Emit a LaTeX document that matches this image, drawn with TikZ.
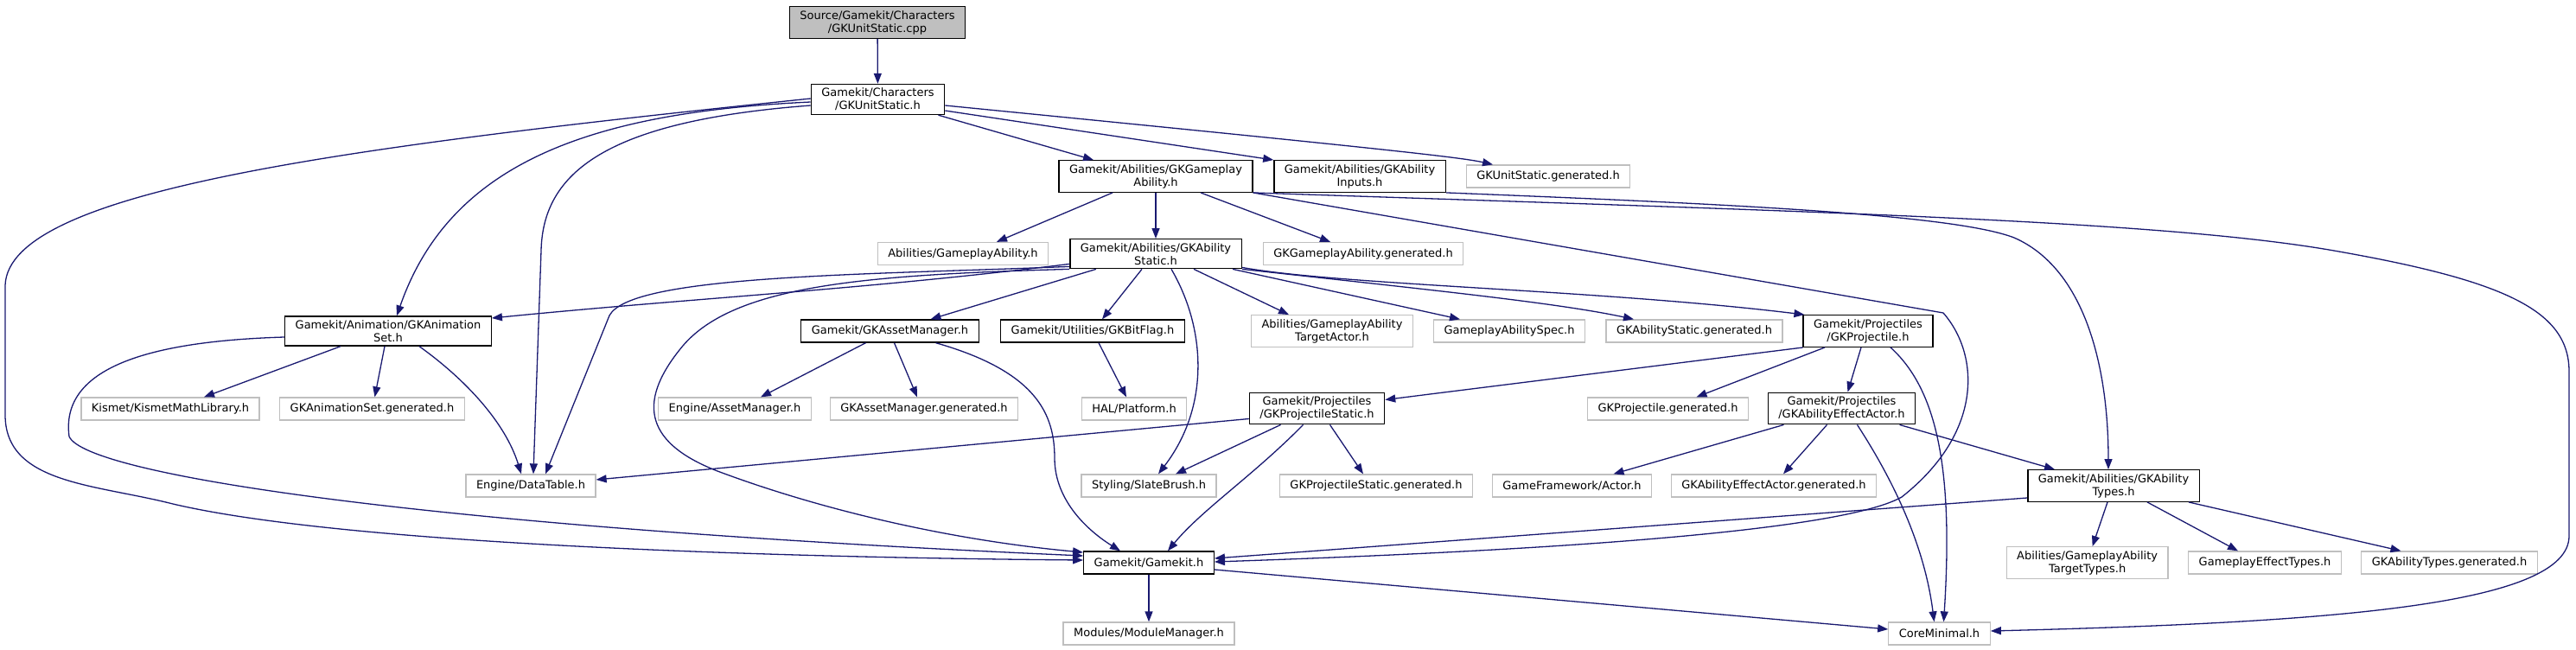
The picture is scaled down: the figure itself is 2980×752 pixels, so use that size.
\documentclass[tikz,border=0pt]{standalone}
\usepackage{fontspec}
\setmainfont{DejaVu Sans}
\usepackage{tikz}
\usetikzlibrary{arrows.meta}
\definecolor{edgeblue}{HTML}{191970}
\definecolor{extgray}{HTML}{BFBFBF}
\tikzset{
    file/.style={rectangle, draw=black, line width=1.3pt, fill=white, align=center, font=\fontsize{13}{15}\selectfont, inner xsep=12pt, inner ysep=4.5pt, minimum height=26pt},
    extfile/.style={file, draw=extgray},
    rootfile/.style={file, fill=extgray},
    dep/.style={edgeblue, line width=1.3pt, -{Triangle[length=12pt, width=9pt]}},
}

\begin{document}
\begin{tikzpicture}[x=1pt, y=-1pt]
    \useasboundingbox (0,0) rectangle (2980,752);

    \node[rootfile] (cpp) at (1015,26) {Source/Gamekit/Characters\\/GKUnitStatic.cpp};
    \node[file] (unit) at (1015.5,115) {Gamekit/Characters\\/GKUnitStatic.h};

    \node[file] (gpa) at (1337,204) {Gamekit/Abilities/GKGameplay\\Ability.h};
    \node[file] (inputs) at (1573,204) {Gamekit/Abilities/GKAbility\\Inputs.h};
    \node[extfile] (unitgen) at (1791,204) {GKUnitStatic.generated.h};

    \node[extfile] (gabil) at (1114,293.5) {Abilities/GameplayAbility.h};
    \node[file] (astatic) at (1337,293.7) {Gamekit/Abilities/GKAbility\\Static.h};
    \node[extfile] (gpagen) at (1577,293.5) {GKGameplayAbility.generated.h};

    \node[file] (animset) at (449,383) {Gamekit/Animation/GKAnimation\\Set.h};
    \node[file] (assetmgr) at (1029.5,383) {Gamekit/GKAssetManager.h};
    \node[file] (bitflag) at (1264,383) {Gamekit/Utilities/GKBitFlag.h};
    \node[extfile] (tactor) at (1541,383) {Abilities/GameplayAbility\\TargetActor.h};
    \node[extfile] (spec) at (1746,383) {GameplayAbilitySpec.h};
    \node[extfile] (astagen) at (1960,383) {GKAbilityStatic.generated.h};
    \node[file] (proj) at (2161,383) {Gamekit/Projectiles\\/GKProjectile.h};

    \node[extfile] (kismet) at (197,473) {Kismet/KismetMathLibrary.h};
    \node[extfile] (animgen) at (430.5,473) {GKAnimationSet.generated.h};
    \node[extfile] (engasset) at (850,473) {Engine/AssetManager.h};
    \node[extfile] (amgen) at (1069,473) {GKAssetManager.generated.h};
    \node[extfile] (platform) at (1312,473) {HAL/Platform.h};
    \node[file] (projstatic) at (1523.5,472.5) {Gamekit/Projectiles\\/GKProjectileStatic.h};
    \node[extfile] (projgen) at (1929.5,473) {GKProjectile.generated.h};
    \node[file] (effactor) at (2130.5,472.5) {Gamekit/Projectiles\\/GKAbilityEffectActor.h};

    \node[extfile] (datatable) at (614,562) {Engine/DataTable.h};
    \node[extfile] (slate) at (1329,562) {Styling/SlateBrush.h};
    \node[extfile] (psgen) at (1592,562) {GKProjectileStatic.generated.h};
    \node[extfile] (actor) at (1818.5,562) {GameFramework/Actor.h};
    \node[extfile] (eagen) at (2052,562) {GKAbilityEffectActor.generated.h};
    \node[file] (types) at (2445,562) {Gamekit/Abilities/GKAbility\\Types.h};

    \node[file] (gamekit) at (1329,651) {Gamekit/Gamekit.h};
    \node[extfile] (ttypes) at (2414.6,651) {Abilities/GameplayAbility\\TargetTypes.h};
    \node[extfile] (effect) at (2620,651) {GameplayEffectTypes.h};
    \node[extfile] (typesgen) at (2833.5,651) {GKAbilityTypes.generated.h};

    \node[extfile] (modmgr) at (1329,733) {Modules/ModuleManager.h};
    \node[extfile] (core) at (2243.5,733) {CoreMinimal.h};

    \draw[dep] (cpp) -- (unit);
    \draw[dep] ([xshift=70pt]unit.south) -- ([xshift=-72pt]gpa.north);
    \draw[dep] ([yshift=-13pt]unit.east) -- (inputs.north west);
    \draw[dep] ([yshift=-7pt]unit.east) .. controls (1600,172) and (1690,182) .. ([xshift=-64pt]unitgen.north);
    \draw[dep] ([yshift=-3pt]unit.west) .. controls (680,130) and (520,190) .. ([xshift=10pt]animset.north);
    \draw[dep] ([yshift=-7pt]unit.west) .. controls (700,140) and (628,200) .. (626,290) -- ([xshift=3pt]datatable.north);
    \draw[dep] ([yshift=1pt]unit.west) .. controls (400,170) and (10,220) .. (6,330) -- (6,480)
        .. controls (6,560) and (110,560) .. (200,583) .. controls (400,630) and (900,645) .. ([yshift=3pt]gamekit.west);

    \draw[dep] ([xshift=-50pt]gpa.south) -- ([xshift=39pt]gabil.north);
    \draw[dep] (gpa) -- (astatic);
    \draw[dep] ([xshift=52pt]gpa.south) -- ([xshift=-38pt]gpagen.north);
    \draw[dep] (gpa.south east) -- (2248,362) .. controls (2290,410) and (2295,500) .. (2200,575)
        .. controls (2120,620) and (1700,640) .. ([yshift=1pt]gamekit.east);
    \draw[dep] (gpa.south east) .. controls (2100,245) and (2500,255) .. (2700,290)
        .. controls (2900,325) and (2972,360) .. (2972,430) -- (2972,620)
        .. controls (2972,700) and (2700,720) .. ([yshift=3pt]core.east);
    \draw[dep] (inputs.south east) .. controls (2000,236) and (2260,248) .. (2330,275)
        .. controls (2410,310) and (2439,420) .. ([xshift=-6pt]types.north);

    \draw[dep] ([yshift=6pt]astatic.south west) .. controls (1000,335) and (800,345) .. ([yshift=15pt]animset.east);
    \draw[dep] ([yshift=3pt]astatic.south west) .. controls (1000,318) and (730,318) .. (705,365) -- ([xshift=17pt]datatable.north);
    \draw[dep] (astatic.south west) .. controls (1000,318) and (850,330) .. (790,400)
        .. controls (740,460) and (740,510) .. (830,545) .. controls (950,590) and (1100,625) .. ([yshift=12pt]gamekit.west);
    \draw[dep] ([xshift=-69pt]astatic.south) -- ([xshift=47pt]assetmgr.north);
    \draw[dep] ([xshift=-16pt]astatic.south) -- ([xshift=11pt]bitflag.north);
    \draw[dep] ([xshift=18pt]astatic.south) .. controls (1395,380) and (1400,470) .. ([xshift=11pt]slate.north);
    \draw[dep] ([xshift=44pt]astatic.south) -- ([xshift=-50pt]tactor.north);
    \draw[dep] ([xshift=89pt]astatic.south) -- ([xshift=-57pt]spec.north);
    \draw[dep] (astatic.south east) .. controls (1650,335) and (1800,350) .. ([xshift=-70pt]astagen.north);
    \draw[dep] ([yshift=2pt]astatic.south east) .. controls (1550,330) and (1850,335) .. ([xshift=2pt]proj.north west);

    \draw[dep] ([xshift=-55pt]animset.south) -- ([xshift=39pt]kismet.north);
    \draw[dep] ([xshift=-4pt]animset.south) -- ([xshift=3pt]animgen.north);
    \draw[dep] ([xshift=36pt]animset.south) .. controls (540,440) and (585,490) .. ([xshift=-11pt]datatable.north);
    \draw[dep] ([yshift=-7pt]animset.west) .. controls (160,395) and (70,430) .. (80,505)
        .. controls (100,550) and (500,610) .. ([yshift=8pt]gamekit.west);

    \draw[dep] ([xshift=-28pt]assetmgr.south) -- ([xshift=30pt]engasset.north);
    \draw[dep] ([xshift=5pt]assetmgr.south) -- ([xshift=-8pt]amgen.north);
    \draw[dep] ([xshift=53pt]assetmgr.south) .. controls (1200,430) and (1220,480) .. (1220,530)
        .. controls (1220,580) and (1260,615) .. ([xshift=-33pt]gamekit.north);
    \draw[dep] ([xshift=7pt]bitflag.south) -- ([xshift=-9pt]platform.north);

    \draw[dep] ([yshift=-12pt]projstatic.west) -- ([yshift=7pt]datatable.east);
    \draw[dep] ([xshift=-42pt]projstatic.south) -- ([xshift=31pt]slate.north);
    \draw[dep] ([xshift=-16pt]projstatic.south) .. controls (1450,550) and (1390,590) .. ([xshift=22pt]gamekit.north);
    \draw[dep] ([xshift=15pt]projstatic.south) -- ([xshift=-15pt]psgen.north);

    \draw[dep] ([yshift=-19pt]proj.west) -- ([yshift=10pt]projstatic.east);
    \draw[dep] ([xshift=-50pt]proj.south) -- ([xshift=33pt]projgen.north);
    \draw[dep] ([xshift=-8pt]proj.south) -- ([xshift=7pt]effactor.north);
    \draw[dep] ([xshift=26pt]proj.south) .. controls (2240,450) and (2260,540) .. ([xshift=5pt]core.north);

    \draw[dep] ([xshift=-67pt]effactor.south) -- ([xshift=48pt]actor.north);
    \draw[dep] ([xshift=-17pt]effactor.south) -- ([xshift=11pt]eagen.north);
    \draw[dep] ([xshift=18pt]effactor.south) .. controls (2180,540) and (2225,620) .. ([xshift=-6pt]core.north);
    \draw[dep] ([xshift=67pt]effactor.south) -- ([xshift=-68pt]types.north);

    \draw[dep] ([yshift=-14pt]types.west) -- ([yshift=5pt]gamekit.east);
    \draw[dep] ([xshift=-7pt]types.south) -- ([xshift=6pt]ttypes.north);
    \draw[dep] ([xshift=39pt]types.south) -- ([xshift=-31pt]effect.north);
    \draw[dep] ([xshift=87pt]types.south) -- ([xshift=-56pt]typesgen.north);

    \draw[dep] (gamekit) -- (modmgr);
    \draw[dep] ([yshift=-8pt]gamekit.east) -- ([yshift=5pt]core.west);
\end{tikzpicture}
\end{document}
